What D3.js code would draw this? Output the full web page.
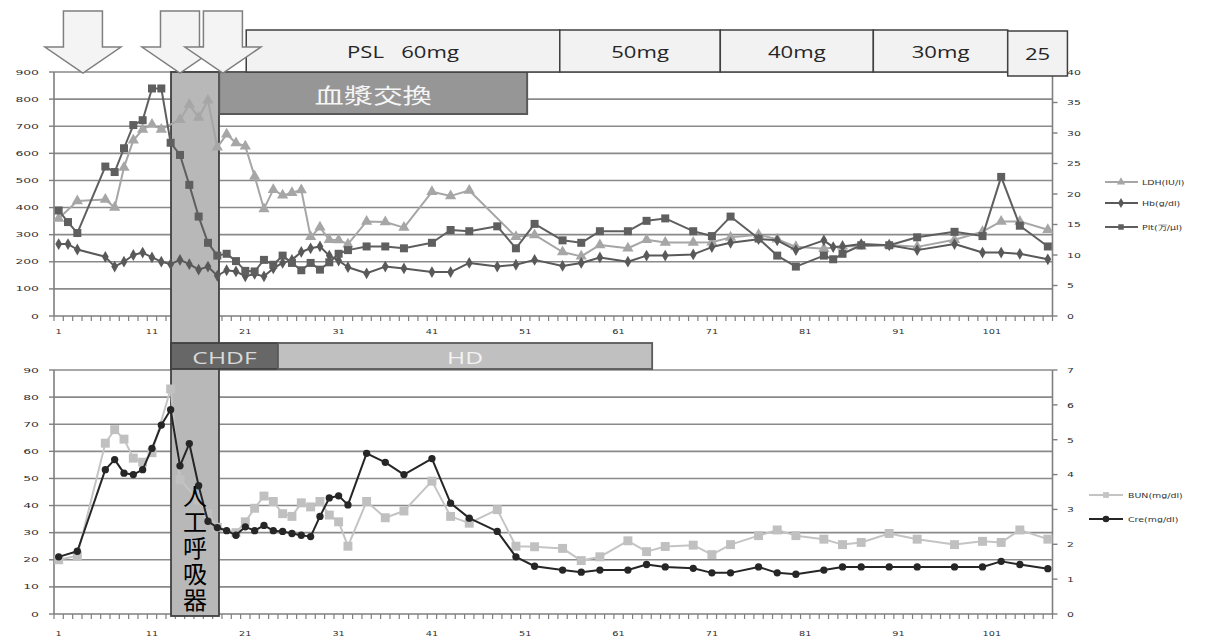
<!DOCTYPE html>
<html lang="ja">
<head>
<meta charset="utf-8">
<title>LDH / Hb / Plt, BUN / Cre course</title>
<script src="https://cdn.jsdelivr.net/npm/d3@7"></script>
<style>
  body { margin: 0; background: #fff; }
  svg { display: block; }
  text { font-family: "DejaVu Sans", sans-serif; white-space: pre; }
</style>
</head>
<body>
<script>
// ---- data (day number, value) ----
var ldhDays = [1,3,6,7,8,9,10,11,12,14,15,16,17,18,19,20,21,22,23,24,25,26,27,28,29,30,31,32,34,36,38,41,43,45,50,52,55,57,59,62,64,66,69,71,73,76,78,80,83,85,87,90,93,97,100,102,104,107];
var ldhVals = [360,424,430,400,548,648,688,706,688,724,780,732,796,622,670,638,626,515,395,466,445,455,465,292,327,281,280,265,349,347,326,458,443,463,292,299,236,220,262,250,281,271,271,272,290,300,283,255,248,257,257,262,255,281,311,349,349,318];

var hbDays = [1,2,3,6,7,8,9,10,11,12,13,14,15,16,17,18,19,20,21,22,23,24,25,26,27,28,29,30,31,32,34,36,38,41,43,45,48,50,52,55,57,59,62,64,66,69,71,73,76,78,80,83,84,85,87,90,93,97,100,102,104,107];
var hbVals = [11.8,11.8,10.9,9.7,8.1,8.9,10.0,10.4,9.6,8.9,8.5,9.2,8.5,7.6,8.1,6.6,7.5,7.3,6.5,6.9,6.5,7.8,8.7,9.2,10.5,11.1,11.4,9.9,9.1,8.0,7.0,8.1,7.8,7.2,7.2,8.7,8.1,8.4,9.2,8.2,8.7,9.6,8.9,9.9,9.9,10.1,11.3,12.0,12.6,12.4,10.8,12.4,11.3,11.4,11.8,11.6,10.8,11.8,10.4,10.4,10.2,9.3];

var pltDays = [1,2,3,6,7,8,9,10,11,12,13,14,15,16,17,18,19,20,21,22,23,24,25,26,27,28,29,30,31,32,34,36,38,41,43,45,48,50,52,55,57,59,62,64,66,69,71,73,76,78,80,83,84,85,87,90,93,97,100,102,104,107];
var pltVals = [17.3,15.4,13.6,24.5,23.6,27.5,31.3,32.1,37.3,37.3,28.4,26.4,21.5,16.3,12.0,9.9,10.2,9.0,7.4,7.3,9.2,8.4,9.9,8.7,7.5,8.7,7.6,8.8,10.2,10.8,11.4,11.4,11.1,12.0,14.1,13.9,14.7,11.1,15.1,12.4,12.0,13.9,13.9,15.6,16.0,13.9,13.1,16.3,12.7,9.9,8.1,9.9,9.3,10.2,11.6,11.6,12.9,13.8,13.1,22.8,14.8,11.4];

var bunDays = [1,3,6,7,8,9,10,11,13,14,16,17,18,20,21,22,23,24,25,26,27,28,29,30,31,32,34,36,38,41,43,45,48,50,52,55,57,59,62,64,66,69,71,73,76,78,80,83,85,87,90,93,97,100,102,104,107];
var bunVals = [20,21.5,63,68,64.5,57.5,56,59.5,83,49.5,42,37,32,30,34,39,43.5,41.5,37,36,41,39.5,41.5,36.5,34,25,41.5,35.5,38,49,36,33.5,38.5,25,24.8,24.2,19.7,21.1,27,23,24.9,25.4,21.9,25.6,28.9,31,28.9,27.6,25.6,26.4,29.7,27.6,25.6,26.8,26.4,31,27.6];

var creDays = [1,3,6,7,8,9,10,11,12,13,14,15,16,17,18,19,20,21,22,23,24,25,26,27,28,29,30,31,32,34,36,38,41,43,45,48,50,52,55,57,59,62,64,66,69,71,73,76,78,80,83,85,87,90,93,97,100,102,104,107];
var creVals = [1.64,1.80,4.14,4.43,4.04,4.0,4.14,4.75,5.42,5.86,4.25,4.89,3.68,2.66,2.48,2.39,2.26,2.5,2.39,2.54,2.39,2.37,2.31,2.26,2.22,2.8,3.33,3.39,3.13,4.61,4.35,4.0,4.46,3.18,2.75,2.37,1.64,1.37,1.26,1.20,1.26,1.26,1.42,1.35,1.31,1.18,1.18,1.35,1.18,1.14,1.26,1.35,1.35,1.35,1.35,1.35,1.35,1.51,1.42,1.30];

// axes
var xLabelDays = [1,11,21,31,41,51,61,71,81,91,101];
var topLeftTicks = [0,100,200,300,400,500,600,700,800,900];
var topRightTicks = [0,5,10,15,20,25,30,35,40];
var botLeftTicks = [0,10,20,30,40,50,60,70,80,90];
var botRightTicks = [0,1,2,3,4,5,6,7];

// treatment annotations (in days)
var arrowDays = [3.6, 14.0, 18.6];
var pslLabels = ["PSL   60mg", "50mg", "40mg", "30mg", "25"];
var pslBreaks = [21.1, 54.7, 71.9, 88.3, 102.7, 109.1];
var plasmaSpan = [18.2, 51.2];
var ventSpan = [13.04, 18.18];
var chdfSpan = [13.04, 24.5];
var hdSpan = [24.5, 64.6];

function zip(days, vals) {
  return days.map(function(d, i) { return {day: d, v: vals[i]}; });
}

var W = 1225, H = 639;
var svg = d3.select("body").append("svg").attr("width", W).attr("height", H);

var x = d3.scaleLinear().domain([0.5, 107.5]).range([54, 1052.5]);
var yTL = d3.scaleLinear().domain([0, 900]).range([316, 72]);
var yTR = d3.scaleLinear().domain([0, 40]).range([316, 72]);
var yBL = d3.scaleLinear().domain([0, 90]).range([614, 370]);
var yBR = d3.scaleLinear().domain([0, 7]).range([614, 370]);

var gridCol = "#8a8a8a", axisCol = "#7f7f7f", labCol = "#303030";

function label(g, px, py, str, size, sx, anchor, fill, family) {
  return g.append("text")
    .attr("transform", "translate(" + px + "," + py + ") scale(" + sx + ",1)")
    .attr("text-anchor", anchor)
    .attr("dominant-baseline", "central")
    .attr("font-size", size)
    .attr("fill", fill)
    .style("font-family", family || "DejaVu Sans")
    .text(str);
}

function drawFrame(yL, yR, leftTicks, rightTicks, xLabY) {
  var g = svg.append("g");
  var x0 = x.range()[0], x1 = x.range()[1];
  // gridlines
  g.selectAll(".grid").data(leftTicks.filter(function(t) { return t > 0; }))
    .enter().append("line")
    .attr("x1", x0).attr("x2", x1)
    .attr("y1", function(t) { return yL(t); }).attr("y2", function(t) { return yL(t); })
    .attr("stroke", gridCol).attr("stroke-width", 1.6);
  // axis lines
  g.append("line").attr("x1", x0).attr("x2", x0).attr("y1", yL.range()[0]).attr("y2", yL.range()[1])
    .attr("stroke", axisCol).attr("stroke-width", 1.6);
  g.append("line").attr("x1", x1).attr("x2", x1).attr("y1", yL.range()[0]).attr("y2", yL.range()[1])
    .attr("stroke", axisCol).attr("stroke-width", 1.6);
  g.append("line").attr("x1", x0).attr("x2", x1).attr("y1", yL(0)).attr("y2", yL(0))
    .attr("stroke", axisCol).attr("stroke-width", 1.6);
  // left ticks + labels
  leftTicks.forEach(function(t) {
    g.append("line").attr("x1", x0 - 5).attr("x2", x0).attr("y1", yL(t)).attr("y2", yL(t))
      .attr("stroke", axisCol).attr("stroke-width", 1.4);
    label(g, 39, yL(t), t, 7.5, 1.65, "end", labCol);
  });
  rightTicks.forEach(function(t) {
    g.append("line").attr("x1", x1).attr("x2", x1 + 5).attr("y1", yR(t)).attr("y2", yR(t))
      .attr("stroke", axisCol).attr("stroke-width", 1.4);
    label(g, 1067, yR(t), t, 7.5, 1.45, "start", labCol);
  });
  // category ticks
  d3.range(0.5, 108, 1).forEach(function(b) {
    g.append("line").attr("x1", x(b)).attr("x2", x(b)).attr("y1", yL(0)).attr("y2", yL(0) + 5)
      .attr("stroke", axisCol).attr("stroke-width", 1.2);
  });
  xLabelDays.forEach(function(d) {
    label(g, x(d), xLabY, d, 7.5, 1.3, "middle", labCol);
  });
}

function drawSeries(data, y, color, width, symbol, size, fill) {
  var g = svg.append("g");
  var line = d3.line().x(function(d) { return x(d.day); }).y(function(d) { return y(d.v); });
  g.append("path").datum(data).attr("d", line)
    .attr("fill", "none").attr("stroke", color).attr("stroke-width", width)
    .attr("stroke-linejoin", "round");
  g.selectAll("path.m").data(data).enter().append("path").attr("class", "m")
    .attr("d", d3.symbol().type(symbol).size(size))
    .attr("transform", function(d) { return "translate(" + x(d.day) + "," + y(d.v) + ")"; })
    .attr("fill", fill || color);
}

// ---- frames ----
drawFrame(yTL, yTR, topLeftTicks, topRightTicks, 331);
drawFrame(yBL, yBR, botLeftTicks, botRightTicks, 633);

// ventilator band (behind series, above grid)
svg.append("rect")
  .attr("x", x(ventSpan[0])).attr("width", x(ventSpan[1]) - x(ventSpan[0]))
  .attr("y", 72).attr("height", 616 - 72)
  .attr("fill", "#b8b8b8").attr("stroke", "#404040").attr("stroke-width", 1.8);

// ---- series ----
drawSeries(zip(ldhDays, ldhVals), yTL, "#a6a6a6", 2, d3.symbolTriangle, 55);
drawSeries(zip(hbDays, hbVals), yTR, "#595959", 2, d3.symbolDiamond, 40);
drawSeries(zip(pltDays, pltVals), yTR, "#5f5f5f", 2, d3.symbolSquare, 64);
drawSeries(zip(bunDays, bunVals), yBL, "#c4c4c4", 2, d3.symbolSquare, 80, "#c0c0c0");
drawSeries(zip(creDays, creVals), yBR, "#262626", 2, d3.symbolCircle, 42);

// ---- annotations ----
var ann = svg.append("g");
// plasma exchange box
ann.append("rect")
  .attr("x", x(plasmaSpan[0])).attr("width", x(plasmaSpan[1]) - x(plasmaSpan[0]))
  .attr("y", 72).attr("height", 42)
  .attr("fill", "#969696").attr("stroke", "#595959").attr("stroke-width", 2);
label(ann, (x(plasmaSpan[0]) + x(plasmaSpan[1])) / 2, 94, "血漿交換", 21, 1.4, "middle", "#f5f5f5", "Noto Sans CJK JP");

// PSL boxes
pslLabels.forEach(function(s, i) {
  var a = x(pslBreaks[i]), b = x(pslBreaks[i + 1]);
  var last = i === pslLabels.length - 1;
  ann.append("rect").attr("x", a).attr("width", b - a)
    .attr("y", last ? 31 : 30).attr("height", last ? 45 : 42)
    .attr("fill", "#f2f2f2").attr("stroke", "#404040").attr("stroke-width", 1.5);
  label(ann, (a + b) / 2, last ? 54 : 52, s, 17, 1.3, "middle", "#262626", "Open Sans");
});

// arrows
arrowDays.forEach(function(d) {
  var cx = x(d), tip = 73, headTop = 47, hw = 38, sw = 19.5, top = 11;
  var pts = [[cx - sw, top], [cx + sw, top], [cx + sw, headTop], [cx + hw, headTop],
             [cx, tip], [cx - hw, headTop], [cx - sw, headTop]];
  ann.append("path").attr("d", "M" + pts.join("L") + "Z")
    .attr("fill", "#f4f4f4").attr("stroke", "#7f7f7f").attr("stroke-width", 1.5);
});

// CHDF / HD boxes
ann.append("rect").attr("x", x(chdfSpan[0])).attr("width", x(chdfSpan[1]) - x(chdfSpan[0]))
  .attr("y", 343).attr("height", 26).attr("fill", "#676767").attr("stroke", "#404040").attr("stroke-width", 1.8);
label(ann, (x(chdfSpan[0]) + x(chdfSpan[1])) / 2, 357, "CHDF", 17, 1.45, "middle", "#d9d9d9", "Open Sans");
ann.append("rect").attr("x", x(hdSpan[0])).attr("width", x(hdSpan[1]) - x(hdSpan[0]))
  .attr("y", 343).attr("height", 26).attr("fill", "#c0c0c0").attr("stroke", "#595959").attr("stroke-width", 1.8);
label(ann, (x(hdSpan[0]) + x(hdSpan[1])) / 2, 357, "HD", 17, 1.45, "middle", "#f2f2f2", "Open Sans");

// ventilator vertical text (one text element, set vertically)
ann.append("text")
  .attr("x", (x(ventSpan[0]) + x(ventSpan[1])) / 2)
  .attr("y", 484)
  .attr("font-size", 24)
  .attr("fill", "#000")
  .style("font-family", "Noto Sans CJK JP")
  .style("writing-mode", "vertical-rl")
  .style("letter-spacing", "2px")
  .text("人工呼吸器");

// ---- legends ----
var leg = svg.append("g");
var topLegend = [
  {name: "LDH(IU/l)", color: "#a6a6a6", sym: d3.symbolTriangle, y: 182},
  {name: "Hb(g/dl)", color: "#595959", sym: d3.symbolDiamond, y: 203},
  {name: "Plt(万/μl)", color: "#5f5f5f", sym: d3.symbolSquare, y: 227}
];
topLegend.forEach(function(e) {
  leg.append("line").attr("x1", 1105).attr("x2", 1138).attr("y1", e.y).attr("y2", e.y)
    .attr("stroke", e.color).attr("stroke-width", 2);
  leg.append("path").attr("d", d3.symbol().type(e.sym).size(30))
    .attr("transform", "translate(1121," + e.y + ")").attr("fill", e.color);
  label(leg, 1142, e.y, e.name, 7, 1.35, "start", "#333");
});
var botLegend = [
  {name: "BUN(mg/dl)", color: "#c4c4c4", sym: d3.symbolSquare, y: 495},
  {name: "Cre(mg/dl)", color: "#262626", sym: d3.symbolCircle, y: 519}
];
botLegend.forEach(function(e) {
  leg.append("line").attr("x1", 1089).attr("x2", 1123).attr("y1", e.y).attr("y2", e.y)
    .attr("stroke", e.color).attr("stroke-width", 2);
  leg.append("path").attr("d", d3.symbol().type(e.sym).size(34))
    .attr("transform", "translate(1106," + e.y + ")").attr("fill", e.color);
  label(leg, 1128, e.y, e.name, 7, 1.35, "start", "#333");
});
</script>
</body>
</html>
